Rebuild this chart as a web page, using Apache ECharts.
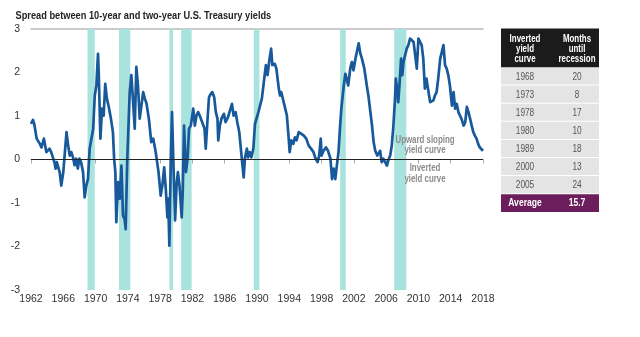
<!DOCTYPE html>
<html><head><meta charset="utf-8">
<script src="https://cdn.jsdelivr.net/npm/echarts@6/dist/echarts.min.js"></script>
<style>html,body{margin:0;padding:0;background:#fff}#c{width:640px;height:337px}</style>
</head><body><div id="c"></div>
<script>
const BASE_YEAR = 1962;
const xTickYears = [1962,1966,1970,1974,1978,1982,1986,1990,1994,1998,2002,2006,2010,2014,2018];
const yTicks = [-3,-2,-1,0,1,2,3];
const spreadYears = [1962.0,1962.25,1962.4,1962.7,1963.1,1963.3,1963.6,1963.9,1964.3,1964.5,1964.9,1965.05,1965.2,1965.55,1965.75,1966.0,1966.2,1966.4,1966.6,1966.8,1967.0,1967.2,1967.4,1967.6,1967.8,1968.0,1968.2,1968.45,1968.65,1968.85,1969.06,1969.27,1969.7,1969.9,1970.1,1970.3,1970.4,1970.6,1970.8,1971.0,1971.2,1971.4,1971.6,1971.9,1972.15,1972.3,1972.45,1972.57,1972.8,1973.0,1973.2,1973.4,1973.6,1973.73,1973.93,1974.23,1974.43,1974.6,1974.85,1975.05,1975.25,1975.47,1975.9,1976.1,1976.3,1976.6,1976.9,1977.15,1977.45,1977.8,1978.07,1978.27,1978.5,1978.7,1978.9,1979.0,1979.14,1979.3,1979.47,1979.63,1979.85,1980.05,1980.2,1980.4,1980.67,1980.8,1980.96,1981.2,1981.4,1981.58,1981.8,1982.1,1982.3,1982.5,1982.7,1982.9,1983.1,1983.5,1983.65,1983.85,1984.05,1984.25,1984.45,1984.7,1984.9,1985.1,1985.2,1985.4,1985.6,1985.9,1986.1,1986.4,1986.6,1986.9,1987.1,1987.35,1987.55,1987.8,1988.0,1988.2,1988.35,1988.5,1988.75,1988.9,1989.1,1989.3,1989.55,1989.75,1990.17,1990.6,1990.95,1991.1,1991.3,1991.5,1991.75,1991.9,1992.2,1992.4,1992.7,1992.85,1993.0,1993.2,1993.5,1993.7,1993.9,1994.05,1994.25,1994.5,1994.7,1994.9,1995.17,1995.5,1995.8,1996.1,1996.4,1996.7,1997.0,1997.2,1997.5,1997.7,1997.9,1998.0,1998.25,1998.55,1998.8,1999.1,1999.3,1999.5,1999.7,1999.9,2000.1,2000.3,2000.45,2000.75,2000.95,2001.1,2001.3,2001.55,2001.75,2001.95,2002.2,2002.4,2002.6,2002.8,2003.0,2003.3,2003.6,2003.8,2004.05,2004.25,2004.45,2004.65,2004.9,2005.1,2005.25,2005.45,2005.65,2005.85,2006.1,2006.3,2006.5,2006.7,2006.9,2007.1,2007.2,2007.35,2007.5,2007.65,2007.85,2008.0,2008.15,2008.35,2008.55,2008.75,2008.96,2009.15,2009.4,2009.6,2009.8,2010.0,2010.2,2010.4,2010.6,2010.8,2011.0,2011.25,2011.45,2011.65,2011.85,2012.05,2012.25,2012.45,2012.7,2012.9,2013.1,2013.3,2013.5,2013.7,2013.9,2014.15,2014.35,2014.55,2014.75,2014.95,2015.15,2015.4,2015.6,2015.8,2016.0,2016.2,2016.4,2016.6,2016.8,2017.0,2017.2,2017.4,2017.6,2017.85,2018.0];
const spreadValues = [0.82,0.91,0.82,0.48,0.36,0.28,0.48,0.17,0.25,0.17,-0.06,-0.21,-0.06,-0.29,-0.6,-0.29,0.17,0.63,0.32,0.09,0.17,0.05,-0.13,0.02,-0.21,0.02,-0.06,-0.29,-0.87,-0.6,-0.45,0.25,0.7,1.47,1.7,2.43,1.94,0.48,1.17,1.01,1.74,1.4,1.24,0.94,0.63,0.02,-0.29,-1.44,-0.52,-0.9,-0.14,-1.29,-1.37,-1.6,0.02,1.55,1.94,1.47,0.71,2.13,1.7,0.94,1.55,1.4,1.3,0.94,0.4,0.48,0.17,-0.29,-0.83,-0.6,-0.18,-0.68,-1.33,-0.9,-1.98,-0.21,1.09,0.02,-1.4,-0.55,-0.29,-0.6,-1.33,-0.75,0.78,-0.29,0.02,0.71,0.78,1.17,0.78,1.01,1.09,1.01,1.01,0.71,0.25,0.86,1.43,1.5,1.55,1.43,1.09,0.94,0.44,0.78,0.94,1.05,0.86,0.97,1.01,1.28,1.01,1.09,0.86,0.63,0.25,-0.14,-0.41,0.02,0.25,0.05,0.17,0.05,0.25,0.82,1.09,1.4,1.94,2.17,1.94,2.24,2.55,2.17,2.2,2.09,1.63,1.47,1.55,1.4,1.17,1.01,0.55,0.17,0.44,0.36,0.51,0.44,0.63,0.59,0.55,0.48,0.32,0.25,0.17,0.05,-0.06,0.09,0.48,0.09,0.2,0.28,0.2,0.02,-0.45,-0.21,-0.45,-0.13,0.17,0.78,1.17,1.7,1.97,1.86,1.7,2.09,2.24,2.05,2.32,2.36,2.67,2.44,2.32,2.09,1.7,1.47,1.09,0.78,0.4,0.2,0.09,0.15,0.2,-0.06,0.02,0.05,-0.14,0.0,0.09,0.32,0.78,1.4,1.86,1.63,1.32,1.7,2.32,1.94,2.24,2.4,2.55,2.63,2.78,2.82,2.7,2.4,2.09,2.78,2.82,2.63,2.32,1.63,1.86,1.55,1.32,1.28,1.36,1.47,1.55,1.86,2.32,2.32,2.63,2.17,2.09,1.94,1.7,1.24,1.55,1.17,1.28,1.09,1.01,0.9,0.78,0.86,1.21,1.09,0.94,0.78,0.63,0.55,0.48,0.36,0.28,0.23,0.2];
const recessionStarts = [1969.0,1972.9,1979.15,1980.6,1989.6,2000.3,2007.0];
const recessionEnds   = [1969.9,1974.3,1979.6,1981.9,1990.3,2001.0,2008.5];
const tableHeader = [["Inverted","yield","curve"],["Months","until","recession"]];
const tableYears = ["1968","1973","1978","1980","1989","2000","2005"];
const tableMonths = ["20","8","17","10","18","13","24"];
const averageLabel = "Average";
const averageValue = "15.7";
const titleText = "Spread between 10-year and two-year U.S. Treasury yields";
const annotUp = ["Upward sloping","yield curve"];
const annotDown = ["Inverted","yield curve"];

const FONT = "'Liberation Sans',sans-serif";
const chart = echarts.init(document.getElementById('c'), null, {renderer:'canvas'});

const lineData = spreadYears.map((y,i)=>[y-BASE_YEAR, spreadValues[i]]);
const areas = recessionStarts.map((s,i)=>[{xAxis:s-BASE_YEAR},{xAxis:recessionEnds[i]-BASE_YEAR}]);

function txt(x,y,t,fill,font,sx,align){
  return {type:'text', x:x, y:y, scaleX:sx, z:100, style:{text:t, fill:fill, font:font, align:align||'center', verticalAlign:'middle'}};
}
const TX=501, TW=98, C1=525, C2=577, HTOP=28.5, HH=39, RH=18.1, AH=17.7;
const g = [];
g.push(txt(15.5,16,titleText,'#222','bold 10.5px '+FONT,0.88,'left'));
g.push({type:'rect', z:90, shape:{x:TX,y:HTOP,width:TW,height:HH}, style:{fill:'#1b1b1b'}});
tableHeader.forEach((lines,ci)=>{
  lines.forEach((t,li)=>g.push(txt(ci?C2:C1, HTOP+10+li*10, t, '#fff', 'bold 11px '+FONT, 0.72)));
});
tableYears.forEach((yr,i)=>{
  const y0 = HTOP+HH+i*RH;
  g.push({type:'rect', z:90, shape:{x:TX,y:y0,width:TW,height:RH-1}, style:{fill:'#e4e4e4'}});
  g.push(txt(C1, y0+RH/2, yr, '#555', '11px '+FONT, 0.75));
  g.push(txt(C2, y0+RH/2, tableMonths[i], '#555', '11px '+FONT, 0.75));
});
const ay = HTOP+HH+tableYears.length*RH;
g.push({type:'rect', z:90, shape:{x:TX,y:ay,width:TW,height:AH}, style:{fill:'#6b1d5c'}});
g.push(txt(C1, ay+AH/2, averageLabel, '#fff', 'bold 11px '+FONT, 0.78));
g.push(txt(C2, ay+AH/2, averageValue, '#fff', 'bold 11px '+FONT, 0.78));
annotUp.forEach((t,i)=>g.push(txt(425, 140+i*10.5, t, '#8c8c8c', 'bold 10.5px '+FONT, 0.75)));
annotDown.forEach((t,i)=>g.push(txt(425, 168.5+i*11, t, '#8c8c8c', 'bold 10.5px '+FONT, 0.75)));

chart.setOption({
  animation:false,
  backgroundColor:'#fff',
  grid:{left:31, right:157, top:29, bottom:47},
  xAxis:[{
    type:'value', min:0, max:56, interval:4,
    axisLine:{show:true, lineStyle:{color:'#aaa', width:1}},
    axisTick:{show:true, length:4, lineStyle:{color:'#aaa'}},
    axisLabel:{formatter:v=>String(v+BASE_YEAR), color:'#333', fontSize:10.5, fontFamily:'Liberation Sans', margin:4},
    splitLine:{show:false}
  },{
    type:'value', min:0, max:56, position:'top',
    axisLine:{show:true, lineStyle:{color:'#bbb', width:1.5}},
    axisTick:{show:false}, axisLabel:{show:false}, splitLine:{show:false}
  }],
  yAxis:{
    type:'value', min:yTicks[0], max:yTicks[yTicks.length-1], interval:1,
    axisLine:{show:false}, axisTick:{show:false}, splitLine:{show:false},
    axisLabel:{color:'#333', fontSize:10.5, fontFamily:'Liberation Sans', margin:11}
  },
  graphic:g,
  series:[
    {type:'line', data:[], z:1, silent:true,
     markArea:{silent:true, itemStyle:{color:'#a9e3de'}, data:areas},
     markLine:{silent:true, symbol:'none', label:{show:false}, lineStyle:{color:'#222', width:1, type:'solid'}, data:[{yAxis:0}]}},
    {type:'line', data:lineData, z:3, showSymbol:false, symbol:'none', smooth:false,
     lineStyle:{color:'#17599a', width:2.7, join:'round'}}
  ]
});
</script></body></html>
